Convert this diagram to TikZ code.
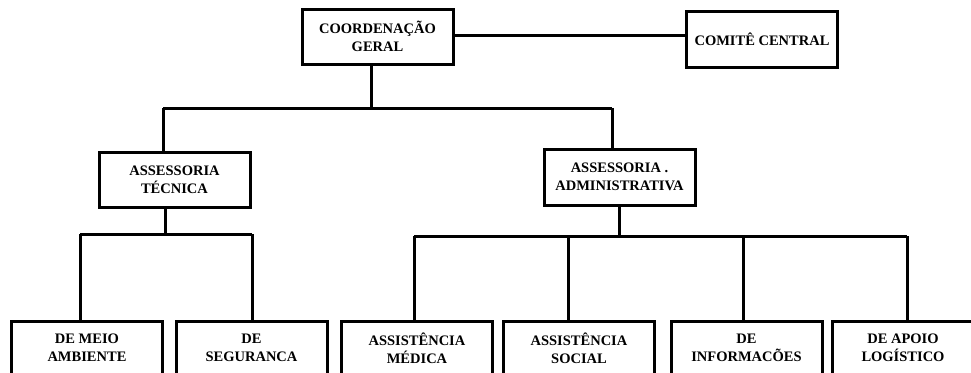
\documentclass[tikz,border=0pt]{standalone}
\usepackage{fontspec}
\setmainfont{Liberation Serif}

\begin{document}
\begin{tikzpicture}[
    x=1pt, y=-1pt,
    box/.style={draw, line width=3pt, minimum width=151pt, minimum height=55pt, inner sep=0pt, align=center, font=\fontsize{14.5}{18}\selectfont\bfseries},
    link/.style={line width=3pt}
  ]
    \clip (0,0) rectangle (971,372);

    \node[box] (coord) at (377.5,36.5) {COORDENAÇÃO\\GERAL};
    \node[box, minimum height=56pt] (comite) at (762,39) {COMITÊ CENTRAL};
    \node[box] (tecnica) at (174.5,179.5) {ASSESSORIA\\TÉCNICA};
    \node[box, minimum height=56pt] (admin) at (619.5,177) {ASSESSORIA .\\ADMINISTRATIVA};

    \node[box, minimum height=54pt] (meio) at (87,348) {DE MEIO\\AMBIENTE};
    \node[box, minimum height=54pt] (seguranca) at (251.5,348) {DE\\SEGURANCA};
    \node[box, minimum height=54pt] (medica) at (417,348) {ASSISTÊNCIA\\MÉDICA};
    \node[box, minimum height=54pt] (social) at (579,348) {ASSISTÊNCIA\\SOCIAL};
    \node[box, minimum height=54pt] (informacoes) at (746.5,348) {DE\\INFORMACÕES};
    \node[box, minimum height=54pt, minimum width=142pt] (apoio) at (903,348) {DE APOIO\\LOGÍSTICO};

    % junction points
    \coordinate (topbus) at (371,108);
    \coordinate (topleft) at (163,108);
    \coordinate (topright) at (612,108);
    \coordinate (tecbus) at (165,234);
    \coordinate (tec1) at (80,234);
    \coordinate (tec2) at (252,234);
    \coordinate (admbus) at (619,236);
    \coordinate (adm1) at (414,236);
    \coordinate (adm2) at (568,236);
    \coordinate (adm3) at (743,236);
    \coordinate (adm4) at (907,236);

    \draw[link] (coord.east |- 0,35) -- (comite.west |- 0,35);
    \draw[link] (coord.south -| topbus) -- (topbus);
    \draw[link] (topleft) -- (topright);
    \draw[link] (topleft) -- (topleft |- tecnica.north);
    \draw[link] (topright) -- (topright |- admin.north);

    \draw[link] (tecnica.south -| tecbus) -- (tecbus);
    \draw[link] (tec1) -- (tec2);
    \draw[link] (tec1) -- (tec1 |- meio.north);
    \draw[link] (tec2) -- (tec2 |- seguranca.north);

    \draw[link] (admin.south -| admbus) -- (admbus);
    \draw[link] (adm1) -- (adm4);
    \draw[link] (adm1) -- (adm1 |- medica.north);
    \draw[link] (adm2) -- (adm2 |- social.north);
    \draw[link] (adm3) -- (adm3 |- informacoes.north);
    \draw[link] (adm4) -- (adm4 |- apoio.north);
  \end{tikzpicture}
\end{document}
